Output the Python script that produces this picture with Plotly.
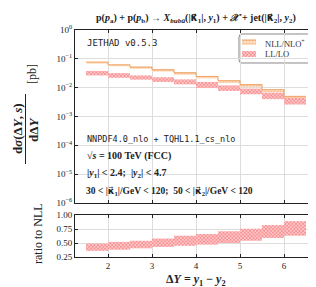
import plotly.graph_objects as go

# ---------------- data ----------------
bin_lo = [1.5, 2.0, 2.5, 3.0, 3.5, 4.0, 4.5, 5.0, 5.5, 6.0]
bin_hi = [2.0, 2.5, 3.0, 3.5, 4.0, 4.5, 5.0, 5.5, 6.0, 6.5]

nll_up = [0.077, 0.062, 0.052, 0.042, 0.033, 0.0245, 0.0174, 0.0127, 0.0085, 0.0050]
nll_dn = [0.068, 0.055, 0.045, 0.036, 0.028, 0.0208, 0.0147, 0.0104, 0.0069, 0.0042]

ll_up = [0.038, 0.032, 0.0266, 0.023, 0.0194, 0.0158, 0.0120, 0.0093, 0.0067, 0.0044]
ll_dn = [0.0265, 0.022, 0.019, 0.0158, 0.0130, 0.0097, 0.0077, 0.0059, 0.0040, 0.0026]

ratio_up = [0.49, 0.52, 0.54, 0.58, 0.63, 0.66, 0.71, 0.755, 0.82, 0.89]
ratio_dn = [0.36, 0.38, 0.405, 0.43, 0.45, 0.47, 0.50, 0.54, 0.59, 0.63]

x_ticks = [2, 3, 4, 5, 6]
y_main_ticks = [1, 0.1, 0.01, 0.001, 1e-4, 1e-5, 1e-6]
y_main_text = ["10<sup>0</sup>", "10<sup>−1</sup>", "10<sup>−2</sup>", "10<sup>−3</sup>",
               "10<sup>−4</sup>", "10<sup>−5</sup>", "10<sup>−6</sup>"]
y_ratio_ticks = [0.25, 0.50, 0.75, 1.00]

legend_names = ["NLL/NLO<sup>+</sup>", "LL/LO"]

# ---------------- layout geometry ----------------
W, H = 316, 287
ML, MR, MT, MB = 67, 7, 22, 38
PW, PH = W - ML - MR, H - MT - MB

def px(xp):
    return (xp - ML) / PW

def py(yp):
    return (H - MB - yp) / PH

main_dom = [py(195), 1.0]
ratio_dom = [0.0, py(207)]

SERIF = "Liberation Serif, DejaVu Serif, serif"
MONO = "DejaVu Sans Mono, Liberation Mono, monospace"
KAPPA = "<span style='font-family:DejaVu Sans'>κ\u20d7</span>"

centers = [(a + b) / 2 for a, b in zip(bin_lo, bin_hi)]
widths = [b - a for a, b in zip(bin_lo, bin_hi)]

ORANGE = "#f0a060"
RED = "#e8333c"
nll_marker = dict(color="rgba(255,225,200,0.9)", line=dict(width=0),
                  pattern=dict(shape=".", fgcolor=ORANGE, bgcolor="rgba(255,232,210,1)",
                               size=3, solidity=0.5))
ll_marker = dict(color="rgba(240,120,120,0.9)", line=dict(width=0),
                 pattern=dict(shape="x", fgcolor=RED, bgcolor="rgba(255,200,200,1)",
                              size=2.5, solidity=0.45))

fig = go.Figure()

# NLL band
fig.add_trace(go.Bar(
    x=centers, width=widths, base=nll_dn,
    y=[u - d for u, d in zip(nll_up, nll_dn)],
    marker=nll_marker, showlegend=False, xaxis="x", yaxis="y",
))
# NLL top step line
sx, sy = [], []
for a, b, u in zip(bin_lo, bin_hi, nll_up):
    sx += [a, b]
    sy += [u, u]
fig.add_trace(go.Scatter(x=sx, y=sy, mode="lines",
                         line=dict(color=ORANGE, width=1),
                         showlegend=False, hoverinfo="skip", xaxis="x", yaxis="y"))

# LL band
fig.add_trace(go.Bar(
    x=centers, width=widths, base=ll_dn,
    y=[u - d for u, d in zip(ll_up, ll_dn)],
    marker=ll_marker, showlegend=False, xaxis="x", yaxis="y",
))

# ratio band
fig.add_trace(go.Bar(
    x=centers, width=widths, base=ratio_dn,
    y=[u - d for u, d in zip(ratio_up, ratio_dn)],
    marker=ll_marker, showlegend=False, xaxis="x2", yaxis="y2",
))

axis_common = dict(showline=True, linecolor="#222", linewidth=1, mirror="allticks",
                   ticks="inside", ticklen=3, tickcolor="#222",
                   showgrid=True, gridcolor="#dddddd", gridwidth=1, zeroline=False,
                   tickfont=dict(family=SERIF, size=9, color="#222"))

fig.update_layout(
    width=W, height=H,
    margin=dict(l=ML, r=MR, t=MT, b=MB),
    paper_bgcolor="white", plot_bgcolor="white",
    barmode="overlay",
    showlegend=False,
    xaxis=dict(domain=[0, 1], range=[1.25, 6.75], anchor="y", tickvals=x_ticks,
               showticklabels=False, **axis_common),
    yaxis=dict(domain=main_dom, type="log", range=[-6, 0], anchor="x",
               tickvals=y_main_ticks, ticktext=y_main_text, **axis_common),
    xaxis2=dict(domain=[0, 1], range=[1.25, 6.75], anchor="y2", matches="x",
                tickvals=x_ticks, **axis_common),
    yaxis2=dict(domain=ratio_dom, range=[0.25, 1.0], anchor="x2",
                tickvals=y_ratio_ticks, tickformat=".2f", **axis_common),
    xaxis3=dict(domain=[px(234), px(248)], range=[0, 1], anchor="y3", visible=False,
                fixedrange=True),
    yaxis3=dict(domain=[py(50), py(31)], range=[0, 19], anchor="x3", visible=False,
                fixedrange=True),
)

# legend frame with rounded corners
x0, x1, y0, y1, r = 231, 307, 26, 55, 3
def P(xp, yp):
    return f"{px(xp):.5f},{py(yp):.5f}"
path = (f"M {P(x0 + r, y0)} L {P(x1 - r, y0)} Q {P(x1, y0)} {P(x1, y0 + r)} "
        f"L {P(x1, y1 - r)} Q {P(x1, y1)} {P(x1 - r, y1)} L {P(x0 + r, y1)} "
        f"Q {P(x0, y1)} {P(x0, y1 - r)} L {P(x0, y0 + r)} Q {P(x0, y0)} {P(x0 + r, y0)} Z")
fig.add_shape(type="path", path=path, xref="paper", yref="paper",
              line=dict(color="#888", width=1), fillcolor="white", layer="below")

# legend swatches (patterned bars on a hidden helper axis)
fig.add_trace(go.Bar(x=[0.5], y=[5], base=[13], width=[1], marker=nll_marker,
                     xaxis="x3", yaxis="y3", showlegend=False, hoverinfo="skip"))
fig.add_trace(go.Scatter(x=[0, 1], y=[18, 18], mode="lines", line=dict(color=ORANGE, width=1),
                         xaxis="x3", yaxis="y3", showlegend=False, hoverinfo="skip"))
fig.add_trace(go.Bar(x=[0.5], y=[6], base=[1], width=[1], marker=ll_marker,
                     xaxis="x3", yaxis="y3", showlegend=False, hoverinfo="skip"))

def ann(text, xp, yp, size=10, family=SERIF, angle=0, xanchor="left", color="#222"):
    fig.add_annotation(text=text, x=px(xp), y=py(yp), xref="paper", yref="paper",
                       showarrow=False, xanchor=xanchor, yanchor="middle",
                       textangle=angle, font=dict(family=family, size=size, color=color))

ann(legend_names[0], 255, 35, size=8.5, color="#333")
ann(legend_names[1], 255, 46, size=8.5, color="#333")

# title
ann("<b>p(<i>p</i><sub>a</sub>) + p(<i>p</i><sub>b</sub>) → <i>X</i><sub><i>bub\u016b</i></sub>"
    f"(|{KAPPA}<sub>1</sub>|, <i>y</i><sub>1</sub>) + <i>𝒳</i> + "
    f"jet(|{KAPPA}<sub>2</sub>|, <i>y</i><sub>2</sub>)</b>",
    188, 10, size=10, xanchor="center")

# in-plot labels
ann("JETHAD v0.5.3", 77, 35, size=9, family=MONO)
ann("NNPDF4.0_nlo + TQHL1.1_cs_nlo", 77, 131, size=8.5, family=MONO)
ann("<b>√<i>s</i> = 100 TeV (FCC)</b>", 77, 148, size=10)
ann("<b>|<i>y</i><sub>1</sub>| &lt; 2.4;  |<i>y</i><sub>2</sub>| &lt; 4.7</b>", 77, 165, size=10)
ann(f"<b>30 &lt; |{KAPPA}<sub>1</sub>|/GeV &lt; 120;  50 &lt; |{KAPPA}<sub>2</sub>|/GeV &lt; 120</b>",
    76, 183, size=9.5)

# axis titles
ann("<b>Δ<i>Y</i> = <i>y</i><sub>1</sub> − <i>y</i><sub>2</sub></b>", 188, 272, size=12, xanchor="center")
ann("<b>d<i>σ</i>(Δ<i>Y</i>, <i>s</i>)</b>", 10, 121, size=13, angle=-90, xanchor="center")
ann("<b>dΔ<i>Y</i></b>", 25, 122, size=13, angle=-90, xanchor="center")
ann("[pb]", 24, 66, size=12, angle=-90, xanchor="center")
fig.add_shape(type="line", xref="paper", yref="paper",
              x0=px(17.5), x1=px(17.5), y0=py(86), y1=py(156),
              line=dict(color="#222", width=1))
ann("ratio to NLL", 30, 226, size=12, angle=-90, xanchor="center")

fig.write_html("out.html")
